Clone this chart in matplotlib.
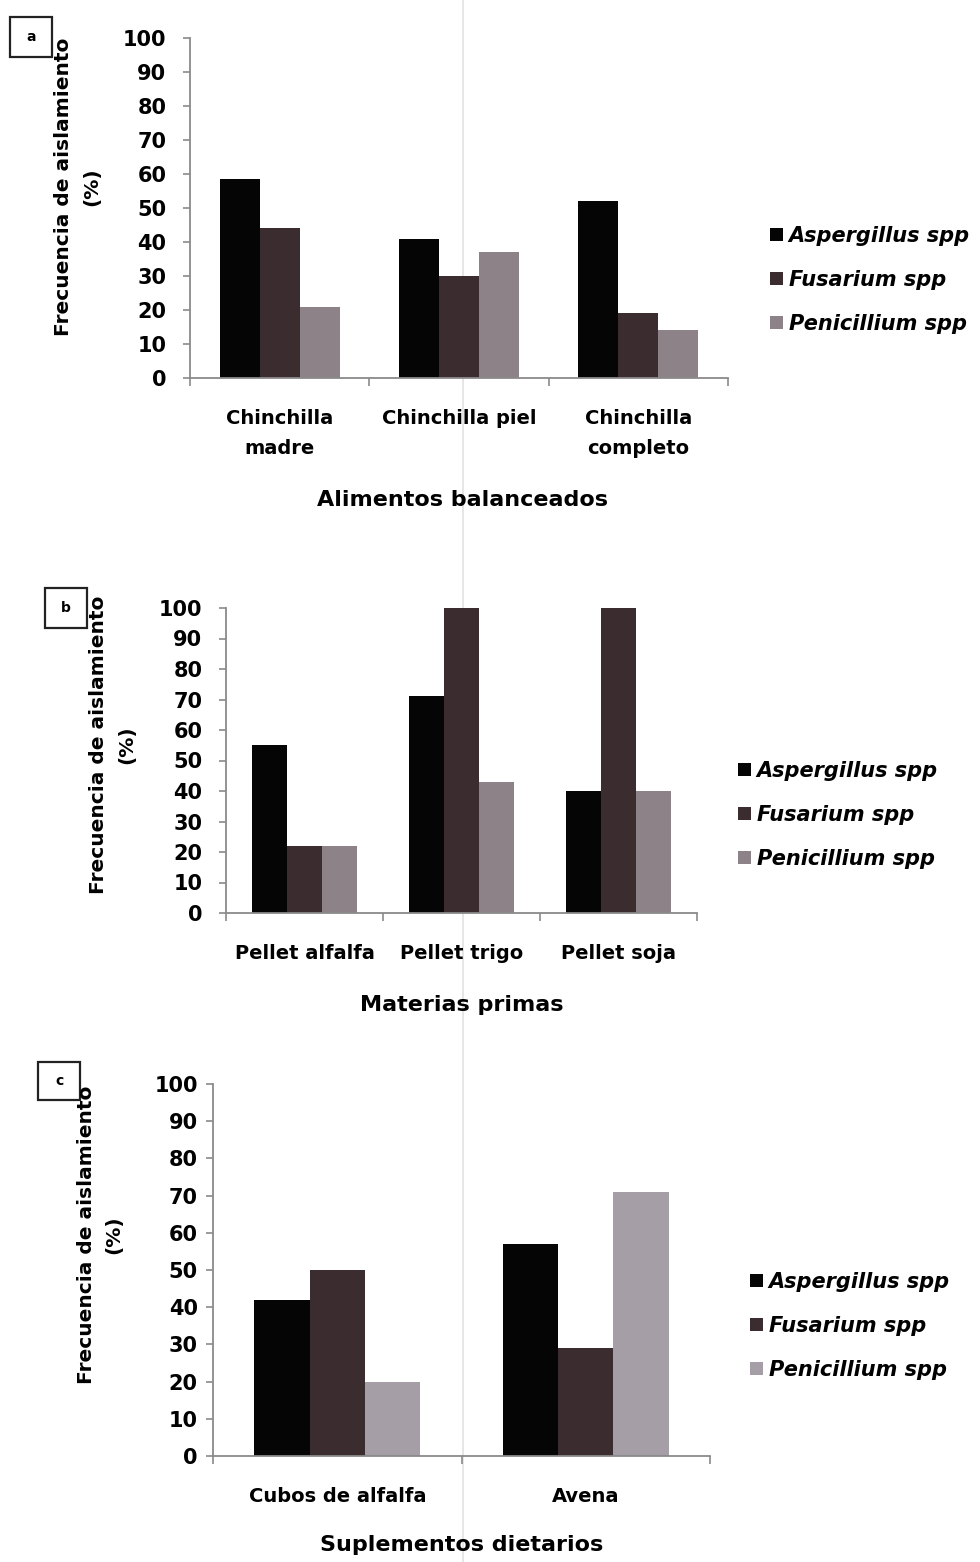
import numpy as np
import matplotlib
matplotlib.use('Agg')
from matplotlib import pyplot as plt
from matplotlib.patches import Rectangle, Patch
from matplotlib.lines import Line2D

# data
series = ['Aspergillus spp', 'Fusarium spp', 'Penicillium spp']

catA = ['Chinchilla\nmadre', 'Chinchilla piel', 'Chinchilla\ncompleto']
aspA = [58.5, 41, 52]
fusA = [44, 30, 19]
penA = [21, 37, 14]

catB = ['Pellet alfalfa', 'Pellet trigo', 'Pellet soja']
aspB = [55, 71, 40]
fusB = [22, 100, 100]
penB = [22, 43, 40]

catC = ['Cubos de alfalfa', 'Avena']
aspC = [42, 57]
fusC = [50, 29]
penC = [20, 71]

W, H = 980, 1562
plt.rcParams['font.family'] = ['DejaVu Sans']
fig = plt.figure(figsize=(W/100, H/100), dpi=100)

# faint scanner fold line
fig.add_artist(Line2D([463/W, 463/W], [0, 1], transform=fig.transFigure,
                      color='#e2e2e2', lw=1.2, zorder=0))

def px_axes(l, t, r, b):
    return fig.add_axes([l/W, 1-b/H, (r-l)/W, (b-t)/H])

def panel(box, cats, vals, colors, letter, lbox, ylab_y, ylab_x, xtitle, xt_y,
          leg_xy, ypad):
    ax = px_axes(*box)
    ax.set_facecolor('none')
    n = len(cats)
    x = np.arange(n)
    w = 0.223
    for k, (v, c) in enumerate(zip(vals, colors)):
        ax.bar(x + (k-1)*w, v, w, color=c, zorder=2)
    ax.set_xlim(-0.5, n-0.5)
    ax.set_ylim(0, 100)
    ax.set_yticks(range(0, 101, 10))
    ax.set_xticks(np.arange(n+1)-0.5)
    ax.set_xticklabels([])
    ax.set_xticks(x, minor=True)
    ax.set_xticklabels(cats, minor=True, fontsize=14, fontweight='bold',
                       linespacing=1.75)
    ax.tick_params(axis='x', which='minor', length=0, pad=22)
    ax.tick_params(axis='x', which='major', length=6, color='#8a8a8a', width=1.2)
    ax.tick_params(axis='y', length=5, color='#8a8a8a', width=1.2, pad=ypad,
                   labelsize=15)
    for t in ax.get_yticklabels():
        t.set_fontweight('bold')
    for s in ['top', 'right']:
        ax.spines[s].set_visible(False)
    for s in ['left', 'bottom']:
        ax.spines[s].set_color('#8a8a8a')
        ax.spines[s].set_linewidth(1.3)
    # y label
    fig.text(ylab_x/W, 1-ylab_y/H, 'Frecuencia de aislamiento\n(%)', rotation=90,
             ha='center', va='center', fontsize=14.5, fontweight='bold',
             linespacing=1.6, multialignment='center')
    # x title
    fig.text(462/W, 1-xt_y/H, xtitle, ha='center', va='center', fontsize=16,
             fontweight='bold')
    # letter box
    l, t, r, b = lbox
    fig.add_artist(Rectangle((l/W, 1-b/H), (r-l)/W, (b-t)/H, transform=fig.transFigure,
                             fill=False, ec='#222222', lw=1.6))
    fig.text((l+r)/2/W, 1-(t+b)/2/H, letter, ha='center', va='center', fontsize=10,
             fontweight='bold')
    handles = [Patch(facecolor=c, edgecolor='none') for c in colors]
    fig.legend(handles, series, loc='center left',
               bbox_to_anchor=(leg_xy[0]/W, 1-leg_xy[1]/H), frameon=False,
               prop={'size': 15, 'weight': 'bold', 'style': 'italic'},
               handlelength=0.6, handleheight=0.6, handletextpad=0.3,
               labelspacing=1.15, borderpad=0, borderaxespad=0)
    return ax

colAB = ['#050505', '#3b2d2f', '#8c8287']
colC = ['#050505', '#3b2d2f', '#a59ea6']

panel((190, 38, 728, 378), catA, [aspA, fusA, penA], colAB, 'a', (10, 17, 52, 57),
      187, 78, 'Alimentos balanceados', 500, (770, 280), 12)
panel((226, 608, 697, 913), catB, [aspB, fusB, penB], colAB, 'b', (45, 588, 87, 628),
      745, 113, 'Materias primas', 1005, (738, 815), 12)
panel((213, 1084, 710, 1456), catC, [aspC, fusC, penC], colC, 'c', (38, 1062, 80, 1100),
      1235, 100, 'Suplementos dietarios', 1545, (750, 1326), 6)

fig.savefig('out.png', dpi=100, facecolor='white')
